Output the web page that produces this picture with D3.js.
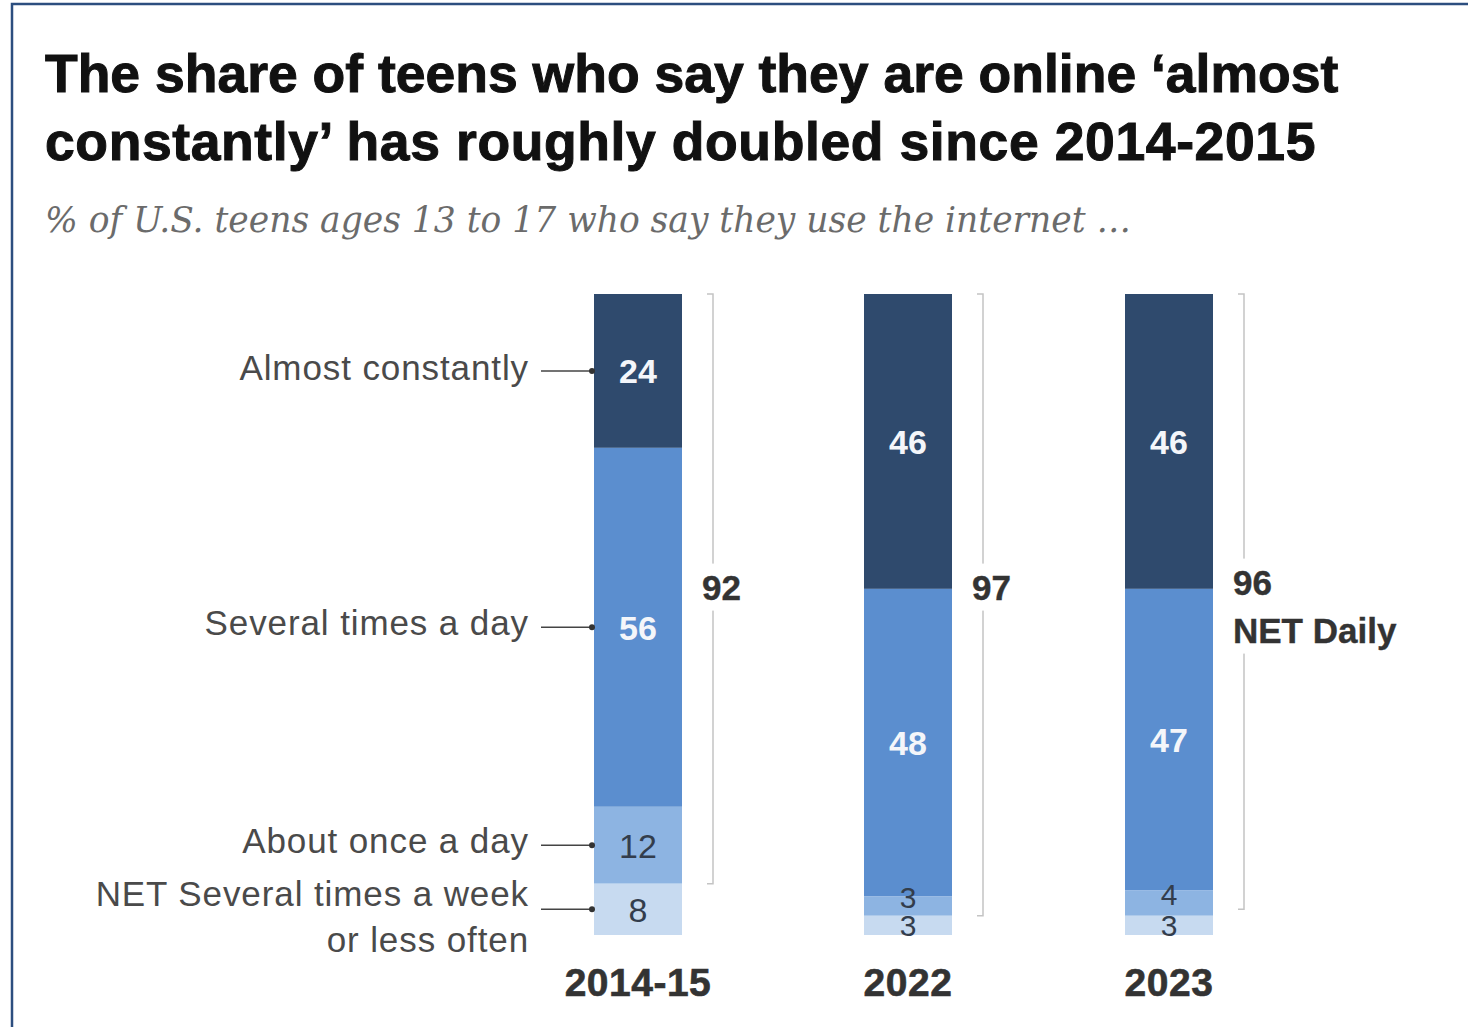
<!DOCTYPE html>
<html>
<head>
<meta charset="utf-8">
<script src="https://cdn.jsdelivr.net/npm/d3@7/dist/d3.min.js"></script>
<style>
  html, body { margin: 0; padding: 0; background: #fff; }
  svg { display: block; }
</style>
</head>
<body>
<script>
// Survey waves and answer categories
const years = ["2014-15", "2022", "2023"];
const categories = ["Almost constantly", "Several times a day", "About once a day", "NET Several times a week or less often"];
// Share of teens (%) per category, one array per wave
const values2014 = [24, 56, 12, 8];
const values2022 = [46, 48, 3, 3];
const values2023 = [46, 47, 4, 3];
// NET daily share per wave
const netDaily = [92, 97, 96];

const seriesByYear = [values2014, values2022, values2023];
const colors = ["#2f4a6d", "#5b8ecf", "#8db4e2", "#c7daf0"];
const labelColors = ["#f4f6fa", "#f4f6fa", "#333d4c", "#333d4c"];

const W = 1468, H = 1027;
const svg = d3.select("body").append("svg").attr("width", W).attr("height", H);

// frame
svg.append("rect")
  .attr("x", 12).attr("y", 4).attr("width", W + 20).attr("height", H + 20)
  .attr("fill", "none").attr("stroke", "#2c4e7f").attr("stroke-width", 2.5);

const font = "Liberation Sans, Arial, sans-serif";

// title
const title = svg.append("text")
  .attr("font-family", font)
  .attr("font-weight", 700).attr("font-size", 53.5).attr("fill", "#111")
  .attr("stroke", "#111").attr("stroke-width", 1);
title.append("tspan").attr("x", 45).attr("y", 92).text("The share of teens who say they are online \u2018almost");
title.append("tspan").attr("x", 45).attr("y", 160).attr("letter-spacing", 0.6)
  .text("constantly\u2019 has roughly doubled since 2014-2015");

svg.append("text")
  .attr("x", 45).attr("y", 232)
  .attr("font-family", "DejaVu Serif, Georgia, serif")
  .attr("font-style", "italic").attr("font-size", 34.5).attr("fill", "#6b6b6b")
  .text("% of U.S. teens ages 13 to 17 who say they use the internet \u2026");

// scales: bar centres per wave, stacked share vertically
const bw = 88;
const x = d3.scaleOrdinal().domain(years).range([638, 908, 1169]);
const y = d3.scaleLinear().domain([0, 100]).range([294, 935]);

years.forEach((yr, i) => {
  const vals = seriesByYear[i];
  const left = x(yr) - bw / 2;
  let cum = 0;
  const g = svg.append("g");
  vals.forEach((v, k) => {
    const y0 = y(cum), y1 = y(cum + v);
    g.append("rect")
      .attr("x", left).attr("y", y0)
      .attr("width", bw).attr("height", y1 - y0)
      .attr("fill", colors[k]);
    cum += v;
  });
  cum = 0;
  vals.forEach((v, k) => {
    const y0 = y(cum), y1 = y(cum + v);
    const small = v < 5;
    // thin neighbouring segments: lift the upper value so the two stay legible
    const nudge = small && k === 2 ? -9 : 0;
    g.append("text")
      .attr("x", x(yr)).attr("y", (y0 + y1) / 2 + nudge)
      .attr("dy", "0.36em")
      .attr("text-anchor", "middle")
      .attr("font-family", font).attr("font-size", small ? 30 : 34)
      .attr("font-weight", k < 2 ? 700 : 400)
      .attr("fill", labelColors[k])
      .text(v);
    cum += v;
  });

  // NET daily bracket
  const bx = left + bw + 31;
  const top = y(0), bot = y(netDaily[i]);
  svg.append("path")
    .attr("d", `M${bx - 6},${top} H${bx} V${bot} H${bx - 6}`)
    .attr("fill", "none").attr("stroke", "#c4c4c4").attr("stroke-width", 1.5);

  const isLast = i === years.length - 1;
  const ly = isLast ? 582 : 587;
  const lab = svg.append("g");
  const t = lab.append("text")
    .attr("x", bx - 11).attr("y", ly).attr("dy", "0.36em")
    .attr("font-family", font).attr("font-weight", 700).attr("font-size", 35)
    .attr("fill", "#333").attr("stroke", "#333").attr("stroke-width", 0.4);
  t.append("tspan").text(netDaily[i]);
  if (isLast) {
    t.append("tspan").attr("x", bx - 11).attr("dy", 48).text("NET Daily");
  }
  const bb = t.node().getBBox();
  lab.insert("rect", "text")
    .attr("x", bb.x - 2).attr("y", bb.y - 4)
    .attr("width", bb.width + 4).attr("height", bb.height + 8)
    .attr("fill", "#fff");

  // year label
  svg.append("text")
    .attr("x", x(yr)).attr("y", 982).attr("dy", "0.36em")
    .attr("text-anchor", "middle")
    .attr("font-family", font).attr("font-weight", 700).attr("font-size", 39)
    .attr("letter-spacing", 0.5)
    .attr("fill", "#333").attr("stroke", "#333").attr("stroke-width", 0.6)
    .text(yr);
});

// category labels with leaders on the first bar
const first = seriesByYear[0];
let acc = 0;
const labelLines = [["Almost constantly"], ["Several times a day"], ["About once a day"], ["NET Several times a week", "or less often"]];
const labelY = [367, 622, 840, 893];
first.forEach((v, k) => {
  const cy = y(acc + v / 2);
  acc += v;
  const x0 = x(years[0]) - bw / 2;
  svg.append("line")
    .attr("x1", 541).attr("x2", x0 - 2).attr("y1", cy).attr("y2", cy)
    .attr("stroke", "#444").attr("stroke-width", 1.5);
  svg.append("circle").attr("cx", x0 - 2).attr("cy", cy).attr("r", 3).attr("fill", "#333");
  const t = svg.append("text")
    .attr("text-anchor", "end")
    .attr("font-family", font).attr("font-size", 35).attr("letter-spacing", 0.9)
    .attr("fill", "#4a4a4a");
  labelLines[k].forEach((ln, j) => {
    t.append("tspan").attr("x", 529).attr("y", labelY[k] + j * 46).attr("dy", "0.36em").text(ln);
  });
});
</script>
</body>
</html>
